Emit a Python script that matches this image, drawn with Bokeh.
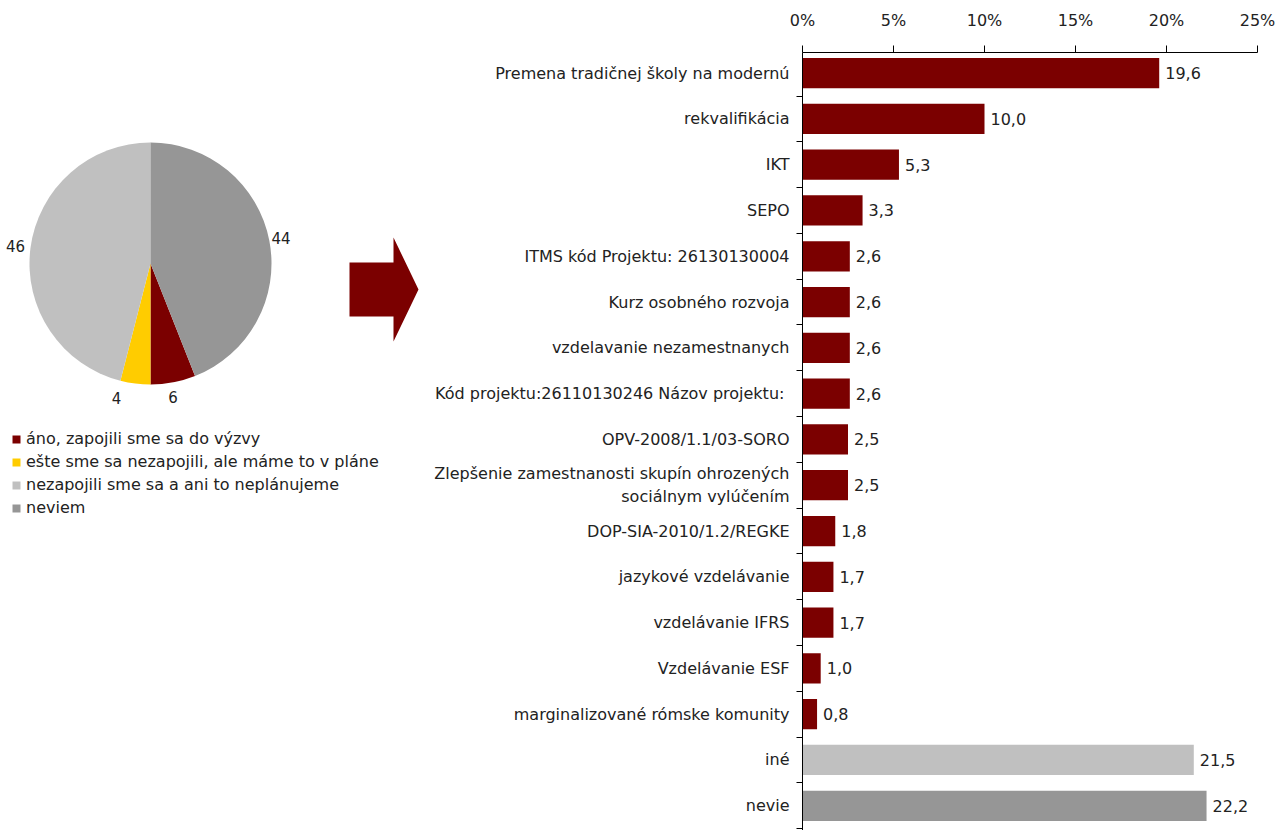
import math
from bokeh.plotting import figure
from bokeh.layouts import row
from bokeh.models import (Range1d, FixedTicker, PrintfTickFormatter, Legend, LegendItem,
                          ColumnDataSource)
from bokeh.embed import file_html
from bokeh.resources import INLINE

# ---------------- data ----------------
pie_labels = ["áno, zapojili sme sa do výzvy",
              "ešte sme sa nezapojili, ale máme to v pláne",
              "nezapojili sme sa a ani to neplánujeme",
              "neviem"]
pie_values = [6, 4, 46, 44]
pie_clockwise_order = [3, 0, 1, 2]   # slice order clockwise from 12 o'clock

bar_categories = ["Premena tradičnej školy na modernú",
                  "rekvalifikácia",
                  "IKT",
                  "SEPO",
                  "ITMS kód Projektu: 26130130004",
                  "Kurz osobného rozvoja",
                  "vzdelavanie nezamestnanych",
                  "Kód projektu:26110130246  Názov projektu:",
                  "OPV-2008/1.1/03-SORO",
                  "Zlepšenie zamestnanosti skupín ohrozených\nsociálnym vylúčením",
                  "DOP-SIA-2010/1.2/REGKE",
                  "jazykové vzdelávanie",
                  "vzdelávanie IFRS",
                  "Vzdelávanie ESF",
                  "marginalizované rómske komunity",
                  "iné",
                  "nevie"]
bar_values = [19.6, 10.0, 5.3, 3.3, 2.6, 2.6, 2.6, 2.6, 2.5, 2.5, 1.8, 1.7, 1.7, 1.0, 0.8, 21.5, 22.2]
x_ticks = [0, 5, 10, 15, 20, 25]

# ---------------- style ----------------
RED = "#7B0000"
YELLOW = "#FFCC00"
LIGHT = "#C0C0C0"
DARK = "#969696"
TEXT = "#222222"
FONT = "DejaVu Sans"
pie_colors = [RED, YELLOW, LIGHT, DARK]
bar_colors = [RED] * 15 + [LIGHT, DARK]

H = 830
TOP = 52
LW = 423
RW = 1280 - LW

# ---------------- left: pie + legend + arrow ----------------
# frame spans page y TOP..H; data y = H - page_y
left = figure(width=LW, height=H, output_backend="svg", toolbar_location=None, title=None,
              x_range=Range1d(0, LW), y_range=Range1d(0, H - TOP),
              x_axis_type=None, y_axis_type=None,
              min_border_left=0, min_border_right=0, min_border_top=TOP, min_border_bottom=0)
left.outline_line_color = None
left.grid.visible = False

cx, cy, R = 150, H - 263, 121
total = float(sum(pie_values))
starts = [0.0] * 4
ends = [0.0] * 4
cum = 0.0
for i in pie_clockwise_order:
    starts[i] = cum
    cum += pie_values[i] / total
    ends[i] = cum
start_ang = [math.pi / 2 - 2 * math.pi * s for s in starts]
end_ang = [math.pi / 2 - 2 * math.pi * e for e in ends]

src = ColumnDataSource(dict(x=[cx] * 4, y=[cy] * 4, start=start_ang, end=end_ang,
                            color=pie_colors, label=pie_labels))
wr = left.wedge(x="x", y="y", radius=R, start_angle="start", end_angle="end",
                direction="clock", fill_color="color", line_color=None, source=src)

# value labels around pie
label_r = 136
label_dx = [-3, -17, 0, -3]
lx, ly, lt = [], [], []
for i in range(4):
    mid = (starts[i] + ends[i]) / 2
    lx.append(cx + label_r * math.sin(2 * math.pi * mid) + label_dx[i])
    ly.append(cy + label_r * math.cos(2 * math.pi * mid))
    lt.append(str(pie_values[i]))
left.text(x=lx, y=ly, text=lt, text_align="center", text_baseline="middle",
          text_font_size="15px", text_color=TEXT, text_font={"value": FONT})

legend = Legend(items=[LegendItem(label=pie_labels[i], renderers=[wr], index=i) for i in range(4)],
                location=(11, 313), orientation="vertical",
                glyph_width=10, glyph_height=10, label_height=17, spacing=4,
                label_standoff=5, padding=0, margin=0,
                border_line_color=None, background_fill_alpha=0,
                label_text_font_size="16px", label_text_color=TEXT, label_text_font=FONT)
left.add_layout(legend)

# arrow
ax = [349, 393, 393, 418, 393, 393, 349]
ay = [262, 262, 237, 289, 341, 316, 316]
left.patch(x=ax, y=[H - v for v in ay], fill_color=RED, line_color=None)

# ---------------- right: bar chart ----------------
n = len(bar_categories)
idx = list(range(n))
right = figure(width=RW, height=H, output_backend="svg", toolbar_location=None, title=None,
               x_range=Range1d(0, 25), y_range=Range1d(16.54, -0.45),
               x_axis_location="above", min_border_left=379, min_border_right=23,
               min_border_top=TOP, min_border_bottom=0)
right.outline_line_color = None
right.grid.visible = False
right.background_fill_color = "white"
right.border_fill_color = "white"

right.hbar(y=idx, left=0, right=bar_values, height=0.66, fill_color=bar_colors, line_color=None)
right.text(x=bar_values, y=idx, text=[f"{v:.1f}".replace(".", ",") for v in bar_values],
           x_offset=6, text_align="left", text_baseline="middle",
           text_font_size="16px", text_color=TEXT, text_font={"value": FONT})

xa = right.xaxis[0]
xa.ticker = FixedTicker(ticks=x_ticks)
xa.formatter = PrintfTickFormatter(format="%d%%")
xa.major_tick_out = 7
xa.major_tick_in = 0
xa.minor_tick_out = 0
xa.minor_tick_in = 0
xa.axis_line_color = "black"
xa.major_tick_line_color = "black"
xa.major_label_text_font_size = "16px"
xa.major_label_text_color = TEXT
xa.major_label_text_font = FONT
xa.major_label_standoff = 16

ya = right.yaxis[0]
ya.ticker = FixedTicker(ticks=idx, minor_ticks=[i - 0.5 for i in range(n + 1)])
ya.major_label_overrides = {i: bar_categories[i] for i in idx}
ya.major_tick_out = 0
ya.major_tick_in = 0
ya.minor_tick_out = 6
ya.minor_tick_in = 0
ya.minor_tick_line_color = "black"
ya.axis_line_color = "black"
ya.major_label_text_font_size = "16px"
ya.major_label_text_color = TEXT
ya.major_label_text_font = FONT
ya.major_label_standoff = 7

layout = row(left, right)
open("out.html", "w").write(file_html(layout, INLINE))
